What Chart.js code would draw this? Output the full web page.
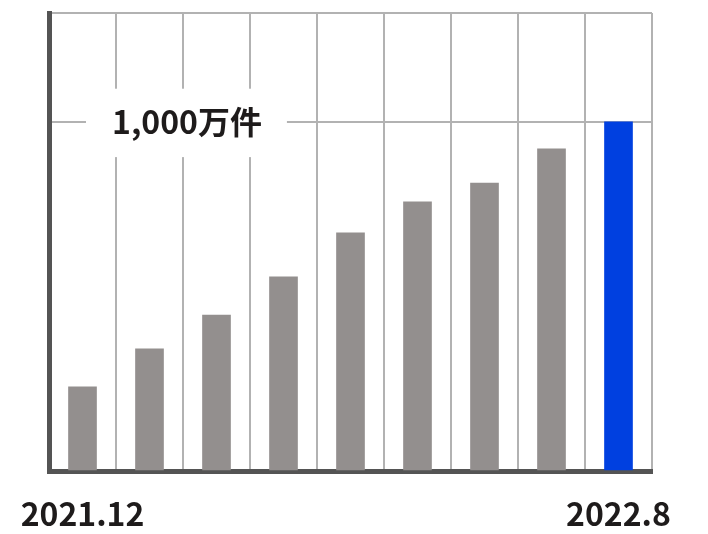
<!DOCTYPE html>
<html lang="ja">
<head>
<meta charset="utf-8">
<script src="https://cdn.jsdelivr.net/npm/chart.js@4/dist/chart.umd.min.js"></script>
<style>
  html, body { margin: 0; padding: 0; background: #fff; }
  #wrap { width: 708px; height: 534px; }
</style>
</head>
<body>
<div id="wrap"><canvas id="chart" width="708" height="534"></canvas></div>
<script>
const months = [
  "2021.12", "2022.1", "2022.2", "2022.3", "2022.4",
  "2022.5", "2022.6", "2022.7", "2022.8",
];
// 万件
const counts = [241, 350, 447, 556, 682, 771, 825, 923, 1000];
const yMax = 1312;
const markValue = 1000;
const markLabel = "1,000万件";

const barGray = "#938f8e";
const barBlue = "#0040e0";
const gridGray = "#b2b2b2";
const axisDark = "#545454";
const fontFamily = "'Noto Sans CJK JP', 'Noto Sans', sans-serif";

const barColors = counts.map((_, i) => (i === counts.length - 1 ? barBlue : barGray));

new Chart(document.getElementById("chart"), {
  type: "bar",
  data: {
    labels: months,
    datasets: [
      {
        data: counts,
        backgroundColor: barColors,
        barThickness: 28,
      },
    ],
  },
  options: {
    responsive: false,
    animation: false,
    events: [],
    layout: {
      padding: { left: 49, right: 56, top: 13, bottom: 0 },
    },
    plugins: {
      legend: { display: false },
      tooltip: { enabled: false },
    },
    scales: {
      x: {
        offset: true,
        grid: {
          offset: true,
          color: gridGray,
          lineWidth: 2,
          drawTicks: false,
        },
        border: { color: axisDark, width: 5 },
        ticks: {
          autoSkip: false,
          maxRotation: 0,
          padding: 24,
          color: "#1e1b1b",
          font: { family: fontFamily, size: 32, weight: "bold" },
          callback: (value, index) =>
            index === 0 || index === months.length - 1 ? months[index] : "",
        },
        afterFit: (scale) => {
          scale.height = 63;
          scale.paddingLeft = 0;
          scale.paddingRight = 0;
        },
      },
      y: {
        min: 0,
        max: yMax,
        grid: {
          color: gridGray,
          lineWidth: 2,
          drawTicks: false,
        },
        border: { color: axisDark, width: 5 },
        afterBuildTicks: (scale) => {
          scale.ticks = [{ value: 0 }, { value: markValue }, { value: yMax }];
        },
        ticks: {
          mirror: true,
          z: 1,
          padding: 63,
          color: "#1e1b1b",
          font: { family: fontFamily, size: 32, weight: "bold" },
          showLabelBackdrop: (ctx) => ctx.tick && ctx.tick.value === markValue,
          backdropColor: "#ffffff",
          backdropPadding: { left: 26, right: 25, top: 14, bottom: 16 },
          callback: (value) => (value === markValue ? markLabel : ""),
        },
        afterFit: (scale) => {
          scale.width = 0;
          scale.paddingTop = 0;
          scale.paddingBottom = 0;
        },
      },
    },
  },
});
</script>
</body>
</html>
